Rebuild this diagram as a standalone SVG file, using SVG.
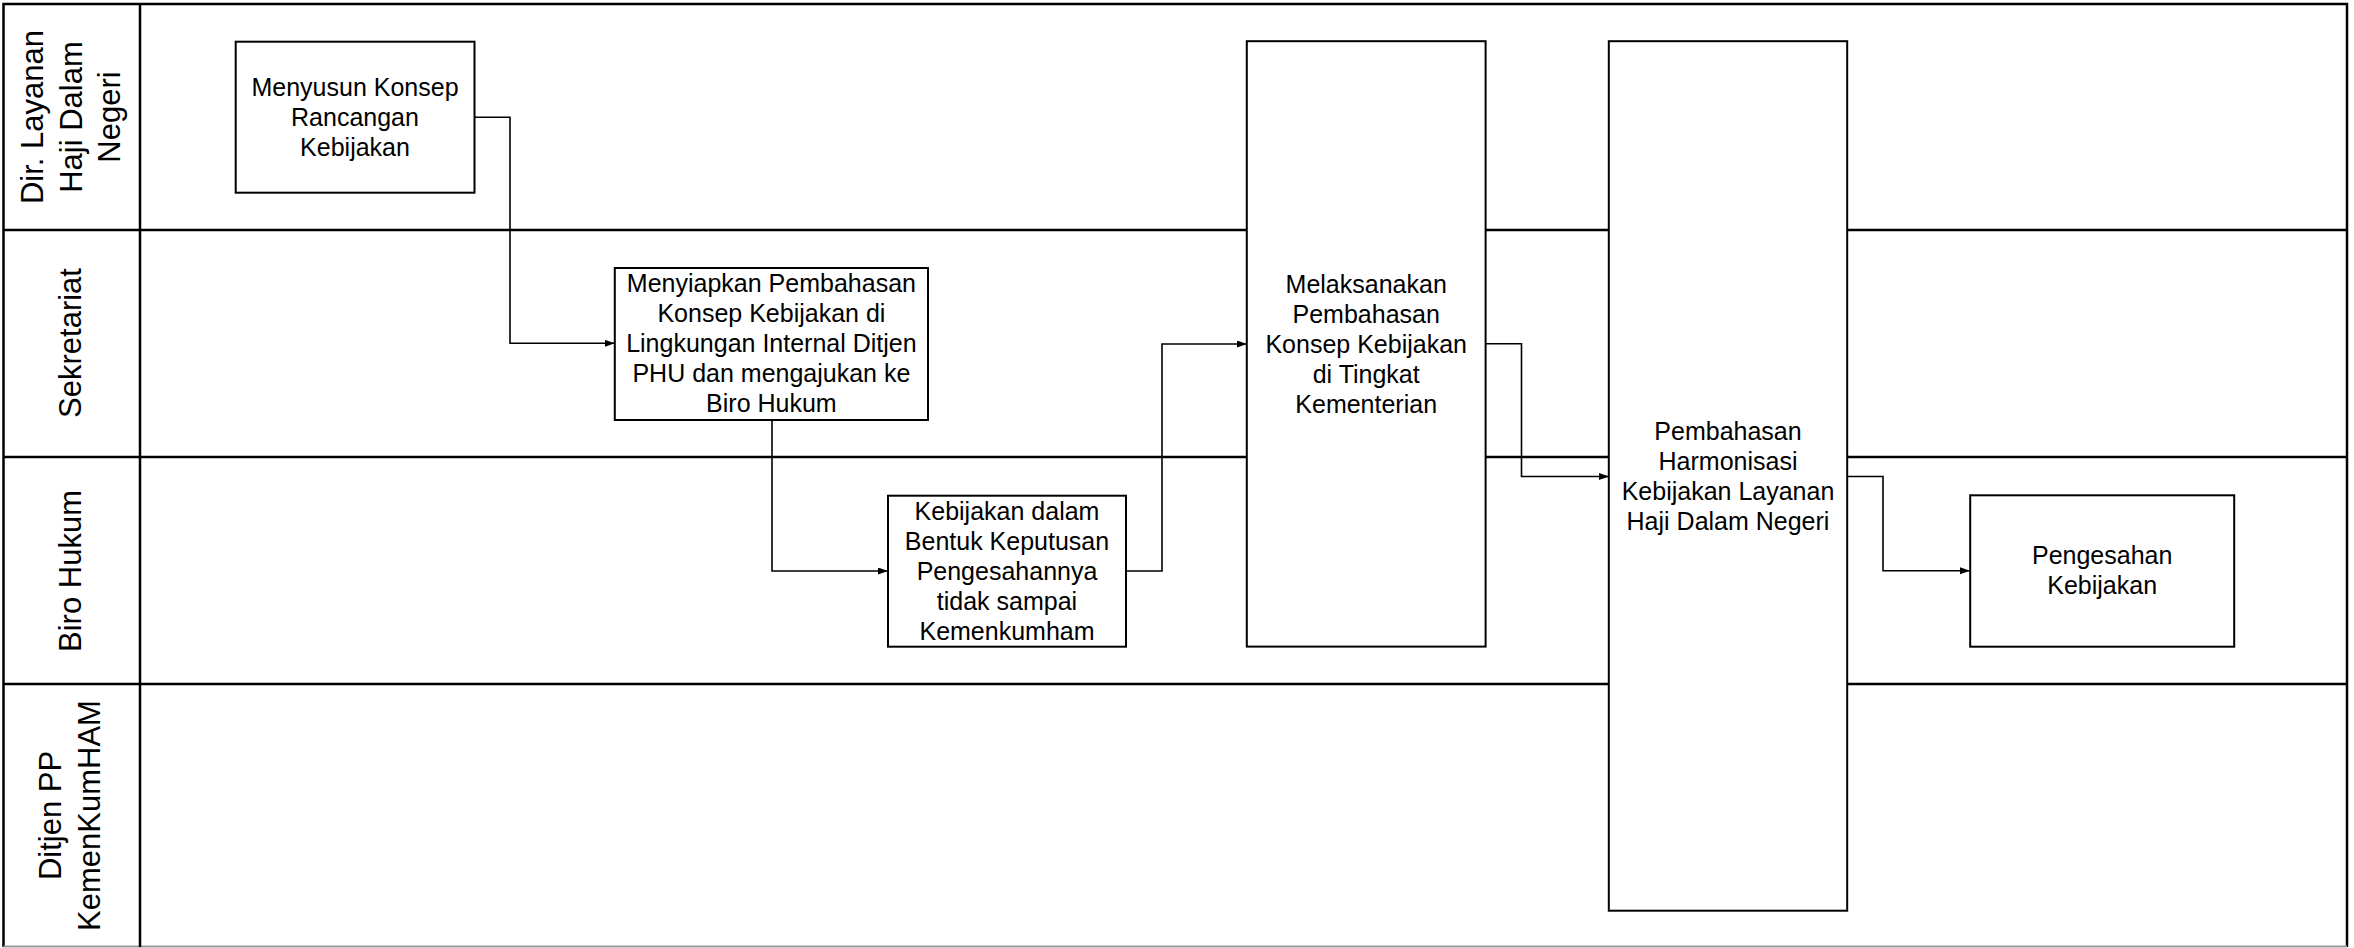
<svg xmlns="http://www.w3.org/2000/svg" width="2354" height="948" viewBox="0 0 2354 948">
<style>
.lane{stroke:#000;stroke-width:2.5;fill:none}
.box{fill:#fff;stroke:#000;stroke-width:2}
.con{fill:none;stroke:#000;stroke-width:1.6;marker-end:url(#arr)}
.t{font-family:"Liberation Sans",Arial,sans-serif;font-size:25px;fill:#000;text-anchor:middle}
.lbl{font-family:"Liberation Sans",Arial,sans-serif;font-size:31px;fill:#000;text-anchor:middle}
</style>
<defs>
<marker id="arr" markerUnits="userSpaceOnUse" markerWidth="11" markerHeight="8" refX="10" refY="3.5" orient="auto">
<path d="M0,0 L10,3.5 L0,7 z" fill="#000"/>
</marker>
</defs>
<rect x="0" y="0" width="2354" height="948" fill="#fff"/>
<g id="lanes">
<path class="lane" d="M3.5,947 V4 H2347 V947"/>
<line x1="3.5" y1="946.5" x2="2347" y2="946.5" stroke="#999" stroke-width="2"/>
<line class="lane" x1="140" y1="4" x2="140" y2="947"/>
<line class="lane" x1="3.5" y1="230" x2="2347" y2="230"/>
<line class="lane" x1="3.5" y1="457" x2="2347" y2="457"/>
<line class="lane" x1="3.5" y1="684" x2="2347" y2="684"/>
<text class="lbl" transform="translate(43,117) rotate(-90)">Dir. Layanan</text>
<text class="lbl" transform="translate(81.5,117) rotate(-90)">Haji Dalam</text>
<text class="lbl" transform="translate(120,117) rotate(-90)">Negeri</text>
<text class="lbl" transform="translate(80.5,343) rotate(-90)">Sekretariat</text>
<text class="lbl" transform="translate(81,571) rotate(-90)">Biro Hukum</text>
<text class="lbl" transform="translate(61,815.5) rotate(-90)">Ditjen PP</text>
<text class="lbl" transform="translate(100,815.5) rotate(-90)">KemenKumHAM</text>
</g>
<g id="connectors">
<path class="con" d="M474.5,117.3 H510 V343.3 H614.8"/>
<path class="con" d="M772,420 V571 H888"/>
<path class="con" d="M1126,571 H1162 V344 H1247"/>
<path class="con" d="M1485.6,343.7 H1521.5 V476.5 H1609"/>
<path class="con" d="M1847.2,476.5 H1883 V570.7 H1970"/>
</g>
<g id="n1">
<rect class="box" x="235.7" y="41.7" width="238.8" height="151"/>
<text class="t" x="355" y="96">Menyusun Konsep</text>
<text class="t" x="355" y="126">Rancangan</text>
<text class="t" x="355" y="156">Kebijakan</text>
</g>
<g id="n2">
<rect class="box" x="614.8" y="268" width="313.2" height="152"/>
<text class="t" x="771.4" y="292.3">Menyiapkan Pembahasan</text>
<text class="t" x="771.4" y="322.3">Konsep Kebijakan di</text>
<text class="t" x="771.4" y="352.3">Lingkungan Internal Ditjen</text>
<text class="t" x="771.4" y="382.3">PHU dan mengajukan ke</text>
<text class="t" x="771.4" y="412.3">Biro Hukum</text>
</g>
<g id="n3">
<rect class="box" x="888" y="495.7" width="238" height="151"/>
<text class="t" x="1007" y="519.5">Kebijakan dalam</text>
<text class="t" x="1007" y="549.5">Bentuk Keputusan</text>
<text class="t" x="1007" y="579.5">Pengesahannya</text>
<text class="t" x="1007" y="609.5">tidak sampai</text>
<text class="t" x="1007" y="639.5">Kemenkumham</text>
</g>
<g id="n4">
<rect class="box" x="1246.8" y="41.2" width="238.8" height="605.4"/>
<text class="t" x="1366.2" y="292.7">Melaksanakan</text>
<text class="t" x="1366.2" y="322.7">Pembahasan</text>
<text class="t" x="1366.2" y="352.7">Konsep Kebijakan</text>
<text class="t" x="1366.2" y="382.7">di Tingkat</text>
<text class="t" x="1366.2" y="412.7">Kementerian</text>
</g>
<g id="n5">
<rect class="box" x="1608.8" y="41.2" width="238.4" height="869.5"/>
<text class="t" x="1728" y="439.5">Pembahasan</text>
<text class="t" x="1728" y="469.5">Harmonisasi</text>
<text class="t" x="1728" y="499.5">Kebijakan Layanan</text>
<text class="t" x="1728" y="529.5">Haji Dalam Negeri</text>
</g>
<g id="n6">
<rect class="box" x="1970.2" y="495.3" width="264" height="151.4"/>
<text class="t" x="2102.2" y="564">Pengesahan</text>
<text class="t" x="2102.2" y="594">Kebijakan</text>
</g>
</svg>
